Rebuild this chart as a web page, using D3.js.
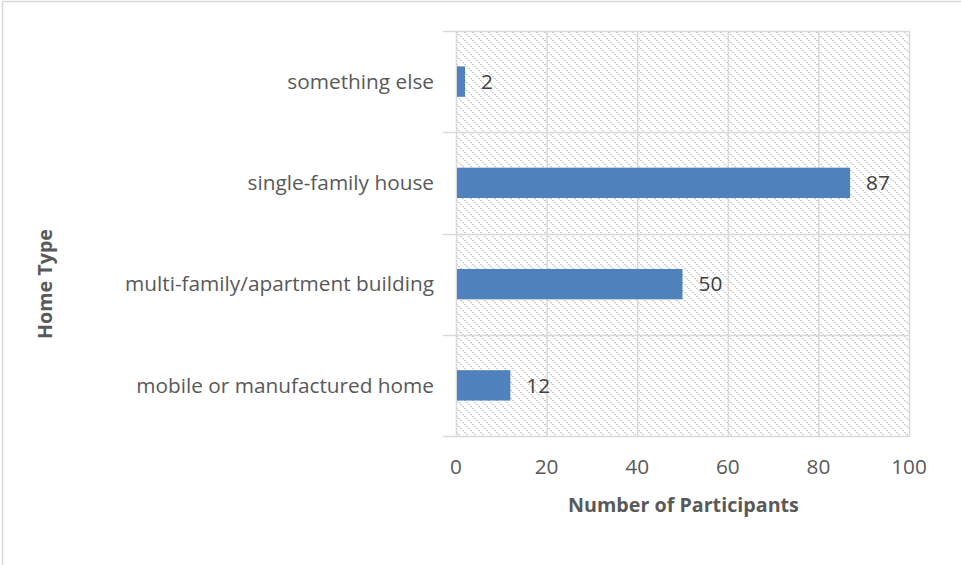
<!DOCTYPE html>
<html>
<head>
<meta charset="utf-8">
<script src="https://cdn.jsdelivr.net/npm/d3@7/dist/d3.min.js"></script>
<style>
  html, body { margin: 0; padding: 0; background: #fff; }
  svg { display: block; }
  text { font-family: "Open Sans", Lato, "Liberation Sans", sans-serif; }
</style>
</head>
<body>
<svg id="chart" width="961" height="565"></svg>
<script>
// Home types, listed bottom to top as drawn
const categories = ["mobile or manufactured home", "multi-family/apartment building", "single-family house", "something else"];
const participants = [12, 50, 87, 2];
const xTicks = [0, 20, 40, 60, 80, 100];

const svg = d3.select("#chart");
const W = 961, H = 565;
const plot = { left: 456, right: 909, top: 31, bottom: 436 };

// Pick a font size so a sample string spans a given width
function fitSize(sample, weight, width) {
  const t = svg.append("text").attr("font-size", 100).attr("font-weight", weight).text(sample);
  const w = t.node().getComputedTextLength();
  t.remove();
  return 100 * width / w;
}
const labelSize = fitSize("mobile or manufactured home", "normal", 298);
const titleSize = fitSize("Number of Participants", "bold", 231);

// Outer chart frame
svg.append("rect")
  .attr("x", 2.5).attr("y", 1.5)
  .attr("width", W + 20).attr("height", H + 20)
  .attr("fill", "#fff").attr("stroke", "#d9d9d9").attr("stroke-width", 1.5);

// Dashed downward-diagonal hatch for the plot area
const defs = svg.append("defs");
const pat = defs.append("pattern")
  .attr("id", "hatch").attr("patternUnits", "userSpaceOnUse")
  .attr("width", 8).attr("height", 8);
pat.append("rect").attr("width", 8).attr("height", 8).attr("fill", "#fff");
for (let i = 0; i < 8; i += 2) {
  pat.append("rect").attr("x", i).attr("y", i).attr("width", 2).attr("height", 1)
    .attr("fill", "#cfcfcf");
  pat.append("rect").attr("x", i + 1).attr("y", i + 1).attr("width", 1).attr("height", 1)
    .attr("fill", "#e6e6e6");
}

const x = d3.scaleLinear().domain([0, 100]).range([plot.left, plot.right]);
const y = d3.scaleBand().domain(categories.slice().reverse())
  .range([plot.top, plot.bottom]).paddingInner(0).paddingOuter(0);

svg.append("rect")
  .attr("x", plot.left).attr("y", plot.top)
  .attr("width", plot.right - plot.left).attr("height", plot.bottom - plot.top)
  .attr("fill", "url(#hatch)");

const grid = "#d9d9d9";

// Vertical gridlines at each value tick
svg.append("g").selectAll("line").data(xTicks.slice(1)).join("line")
  .attr("x1", d => x(d) + 0.5).attr("x2", d => x(d) + 0.5)
  .attr("y1", plot.top).attr("y2", plot.bottom)
  .attr("stroke", grid).attr("stroke-width", 1.5);

// Category separators, extending left as tick marks
const bounds = categories.map(c => y(c)).concat([plot.bottom]);
svg.append("g").selectAll("line").data(bounds).join("line")
  .attr("x1", plot.left - 13).attr("x2", plot.right + 1)
  .attr("y1", d => Math.round(d) + 0.5).attr("y2", d => Math.round(d) + 0.5)
  .attr("stroke", grid).attr("stroke-width", 1.5);

// Category axis line
svg.append("line")
  .attr("x1", plot.left + 0.5).attr("x2", plot.left + 0.5)
  .attr("y1", plot.top).attr("y2", plot.bottom)
  .attr("stroke", grid).attr("stroke-width", 1.5);

// Bars
const barH = y.bandwidth() * 0.3;
svg.append("g").selectAll("rect").data(categories).join("rect")
  .attr("x", x(0) + 1)
  .attr("y", d => y(d) + (y.bandwidth() - barH) / 2)
  .attr("width", (d, i) => x(participants[i]) - x(0) - 1)
  .attr("height", barH)
  .attr("fill", "#4f81bd");

// Value labels
svg.append("g").selectAll("text").data(categories).join("text")
  .attr("x", (d, i) => x(participants[i]) + 16)
  .attr("y", d => y(d) + y.bandwidth() / 2)
  .attr("dy", "0.35em")
  .attr("font-size", labelSize).attr("fill", "#404040")
  .text((d, i) => participants[i]);

// Category labels
svg.append("g").selectAll("text").data(categories).join("text")
  .attr("x", 434)
  .attr("y", d => y(d) + y.bandwidth() / 2)
  .attr("dy", "0.35em")
  .attr("text-anchor", "end")
  .attr("font-size", labelSize).attr("fill", "#595959")
  .text(d => d);

// Value axis tick labels
svg.append("g").selectAll("text").data(xTicks).join("text")
  .attr("x", d => x(d))
  .attr("y", 474)
  .attr("text-anchor", "middle")
  .attr("font-size", labelSize).attr("fill", "#595959")
  .text(d => d);

// Axis titles
svg.append("text")
  .attr("x", (plot.left + plot.right) / 2 + 1).attr("y", 512)
  .attr("text-anchor", "middle")
  .attr("font-size", titleSize).attr("font-weight", "bold").attr("fill", "#595959")
  .text("Number of Participants");

svg.append("text")
  .attr("transform", "translate(52,284) rotate(-90)")
  .attr("text-anchor", "middle")
  .attr("font-size", titleSize).attr("font-weight", "bold").attr("fill", "#595959")
  .text("Home Type");
</script>
</body>
</html>
